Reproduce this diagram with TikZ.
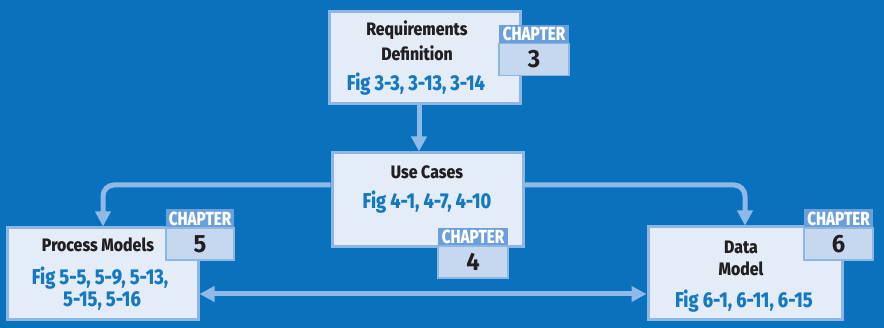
\documentclass[tikz,border=0pt]{standalone}
\usepackage{fontspec}
\setmainfont{Fira Sans}[BoldFont={Fira Sans ExtraBold}, FakeStretch=0.88]
\newfontfamily\figfont{Fira Sans}[BoldFont={Fira Sans ExtraBold}, FakeStretch=0.84]
\newfontfamily\hdrfont{Fira Sans}[BoldFont={Fira Sans ExtraBold}, FakeStretch=0.8]
\newfontfamily\numfont{Fira Sans}[FakeStretch=0.95]
\usetikzlibrary{arrows.meta}
\definecolor{bg}{HTML}{0A72BD}
\definecolor{boxfill}{HTML}{E4ECF7}
\definecolor{boxline}{HTML}{8DB6E3}
\definecolor{hdr}{HTML}{6A9FDB}
\definecolor{numfill}{HTML}{C6D8F0}
\definecolor{txtblack}{HTML}{231F20}
\definecolor{txtblue}{HTML}{1479C1}
\definecolor{arrc}{HTML}{8FB9E6}
\tikzset{
  box/.style={draw=boxline, line width=3pt, fill=boxfill, inner sep=0pt},
  hdrbox/.style={fill=hdr, inner sep=0pt, minimum width=70pt, minimum height=18pt, text=white, font=\hdrfont\fontsize{19}{19}\selectfont\bfseries},
  numbox/.style={draw=boxline, line width=1.5pt, fill=numfill, inner sep=0pt, minimum width=70pt, minimum height=32pt, text=txtblack, font=\numfont\fontsize{25}{25}\selectfont\bfseries},
  title/.style={text=txtblack, font=\fontsize{18}{18}\selectfont\bfseries, inner sep=0pt, anchor=base},
  figtxt/.style={text=txtblue, font=\figfont\fontsize{21.5}{21.5}\selectfont\bfseries, inner sep=0pt, anchor=base},
  arr/.style={draw=arrc, line width=5pt, -{Triangle[width=15pt,length=15pt]}},
  darr/.style={draw=arrc, line width=5pt, {Triangle[width=15pt,length=15pt]}-{Triangle[width=15pt,length=15pt]}}
}
\begin{document}
\begin{tikzpicture}[x=1pt,y=-1pt]
\fill[bg] (0,0) rectangle (884,328);
\useasboundingbox (0,0) rectangle (884,328);
% boxes
\node[box, minimum width=191pt, minimum height=92pt] (req) at (424.5,58) {};
\node[box, minimum width=191pt, minimum height=94pt] (uc) at (427.5,200) {};
\node[box, minimum width=191pt, minimum height=92pt] (pm) at (102.5,274) {};
\node[box, minimum width=194pt, minimum height=93pt] (dm) at (745,273.5) {};
% texts
\node[title] (reqa) at (417,36) {Requirements};
\node[title] (reqb) at (417,61) {Definition};
\node[figtxt] (reqf) at (416,90.5) {Fig 3-3, 3-13, 3-14};
\node[title] (uca) at (427,179) {Use Cases};
\node[figtxt] (ucf) at (427,208.3) {Fig 4-1, 4-7, 4-10};
\node[title] (pma) at (98,251.7) {Process Models};
\node[figtxt] (pmf) at (100,285) {Fig 5-5, 5-9, 5-13,};
\node[figtxt] (pmg) at (102,306.5) {5-15, 5-16};
\node[title] (dma) at (741,253.3) {Data};
\node[title] (dmb) at (741,276) {Model};
\node[figtxt] (dmf) at (744,307.3) {Fig 6-1, 6-11, 6-15};
% chapter labels
\node[hdrbox] (h3) at (534,34) {CHAPTER};
\node[numbox] (n3) at (534,59.5) {3};
\node[hdrbox] (h4) at (473,237) {CHAPTER};
\node[numbox] (n4) at (473,262) {4};
\node[hdrbox, minimum width=68pt, minimum height=19pt] (h5) at (200,218.5) {CHAPTER};
\node[numbox, minimum width=68pt] (n5) at (200,244) {5};
\node[hdrbox, minimum width=69pt, minimum height=19pt] (h6) at (838.5,218.5) {CHAPTER};
\node[numbox, minimum width=69pt] (n6) at (838.5,244) {6};
% connectors
\coordinate (ax) at (419,0);
\coordinate (ly) at (0,185);
\coordinate (lx) at (103,0);
\coordinate (rx) at (745,0);
\coordinate (by) at (0,294);
\draw[arr] (ax |- req.south) -- (ax |- uc.north);
\draw[arr, rounded corners=11pt] (uc.west |- ly) -- (lx |- ly) -- (lx |- pm.north);
\draw[arr, rounded corners=11pt] (uc.east |- ly) -- (rx |- ly) -- (rx |- dm.north);
\draw[darr] (pm.east |- by) -- (dm.west |- by);
\end{tikzpicture}
\end{document}
